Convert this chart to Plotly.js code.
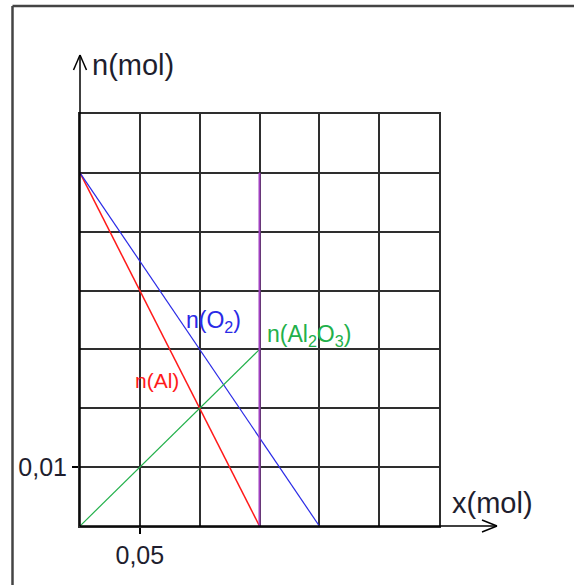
<!DOCTYPE html>
<html>
<head>
<meta charset="utf-8">
<script src="https://cdn.plot.ly/plotly-3.0.1.min.js"></script>
<style>
  body { margin: 0; background: #fff; }
  #grafico { width: 574px; height: 585px; }
</style>
</head>
<body>
<div id="grafico"></div>
<script>
document.addEventListener("DOMContentLoaded", function (event) {

    // datos (x en mol, n en mol)
    var xAl = [0, 0.15];
    var nAl = [0.06, 0];
    var xO2 = [0, 0.2];
    var nO2 = [0.06, 0];
    var xAl2O3 = [0, 0.15];
    var nAl2O3 = [0, 0.03];
    var xFin = [0.15, 0.15];
    var nFin = [0, 0.06];

    var xTicks = [0.05];
    var xTickText = ['0,05'];
    var yTicks = [0.01];
    var yTickText = ['0,01'];

    var colores = [];
    colores["Al"] = '#ff1a1a';
    colores["O2"] = '#2a2ae6';
    colores["Al2O3"] = '#22b04a';
    colores["fin"] = '#a040c0';
    colores["rejilla"] = '#2e2e2e';
    colores["texto"] = '#1e1e2e';

    // area de la rejilla en pixeles
    var L = 80, R = 439, T = 114, B = 526;
    var W = 574, H = 585;
    function px(x) { return (x - L) / (R - L); }
    function py(y) { return (B - y) / (B - T); }

    function linea(x0, y0, x1, y1, color, ancho) {
      return {
          type: 'line', xref: 'paper', yref: 'paper',
          x0: px(x0), y0: py(y0), x1: px(x1), y1: py(y1),
          line: { color: color, width: ancho }
      };
    }

    var datos = [{
      x: xAl, y: nAl, mode: 'lines',
      line: { color: colores["Al"], width: 1.5 }
    }, {
      x: xO2, y: nO2, mode: 'lines',
      line: { color: colores["O2"], width: 1.2 }
    }, {
      x: xAl2O3, y: nAl2O3, mode: 'lines',
      line: { color: colores["Al2O3"], width: 1.2 }
    }, {
      x: xFin, y: nFin, mode: 'lines',
      line: { color: colores["fin"], width: 2 }
    }];

    var layout = {
      width: W,
      height: H,
      showlegend: false,
      font: {
          family: '"Liberation Sans", Arial, sans-serif',
          size: 21,
          color: colores["texto"]
      },
      margin: { l: L, r: W - R, t: T, b: H - B, pad: 0 },
      paper_bgcolor: '#ffffff',
      plot_bgcolor: '#ffffff',
      xaxis: {
          range: [0, 0.3],
          tickmode: 'array',
          tickvals: xTicks,
          ticktext: xTickText,
          ticks: 'outside',
          ticklen: 6,
          tickcolor: '#000',
          tickwidth: 1.5,
          tickfont: { size: 25 },
          showgrid: true,
          gridcolor: colores["rejilla"],
          gridwidth: 2,
          minor: { tickmode: 'linear', tick0: 0, dtick: 0.05, showgrid: true,
                   gridcolor: colores["rejilla"], gridwidth: 2, ticks: '' },
          zeroline: false,
          showline: true,
          mirror: true,
          linecolor: colores["rejilla"],
          linewidth: 2,
          fixedrange: true
      },
      yaxis: {
          range: [0, 0.07],
          tickmode: 'array',
          tickvals: yTicks,
          ticktext: yTickText,
          ticks: 'outside',
          ticklen: 6,
          tickcolor: '#000',
          tickwidth: 1.5,
          tickfont: { size: 25 },
          showgrid: true,
          gridcolor: colores["rejilla"],
          gridwidth: 2,
          minor: { tickmode: 'linear', tick0: 0, dtick: 0.01, showgrid: true,
                   gridcolor: colores["rejilla"], gridwidth: 2, ticks: '' },
          zeroline: false,
          showline: true,
          mirror: true,
          linecolor: colores["rejilla"],
          linewidth: 2,
          fixedrange: true
      },
      shapes: [
          // marco
          linea(12.5, 6, 12.5, 600, '#444', 2.5),
          linea(12.5, 6, 590, 6, '#444', 2.5),
          // ejes con flechas
          linea(80, 526, 80, 55, '#000', 1.5),
          linea(80, 55, 73.5, 70, '#000', 1.5),
          linea(80, 55, 86.5, 70, '#000', 1.5),
          linea(80, 526, 497, 526, '#000', 1.5),
          linea(497, 526, 482, 520, '#000', 1.5),
          linea(497, 526, 482, 532, '#000', 1.5)
      ],
      annotations: [{
          xref: 'paper', yref: 'paper', x: px(90), y: py(65),
          xanchor: 'left', yanchor: 'middle', showarrow: false,
          text: 'n(mol)', font: { size: 29 }
      }, {
          xref: 'paper', yref: 'paper', x: px(450), y: py(503),
          xanchor: 'left', yanchor: 'middle', showarrow: false,
          text: 'x(mol)', font: { size: 29 }
      }, {
          x: 0.087, y: 0.0347, xanchor: 'left', yanchor: 'middle', showarrow: false,
          text: 'n(O<sub>2</sub>)', font: { size: 23, color: colores["O2"] }
      }, {
          x: 0.155, y: 0.0323, xanchor: 'left', yanchor: 'middle', showarrow: false,
          text: 'n(Al<sub>2</sub>O<sub>3</sub>)', font: { size: 23, color: colores["Al2O3"] }
      }, {
          x: 0.044, y: 0.0248, xanchor: 'left', yanchor: 'middle', showarrow: false,
          text: 'n(Al)', font: { size: 21, color: colores["Al"] }
      }]
    };

    Plotly.newPlot('grafico', datos, layout, { displayModeBar: false, staticPlot: true });
});
</script>
</body>
</html>
